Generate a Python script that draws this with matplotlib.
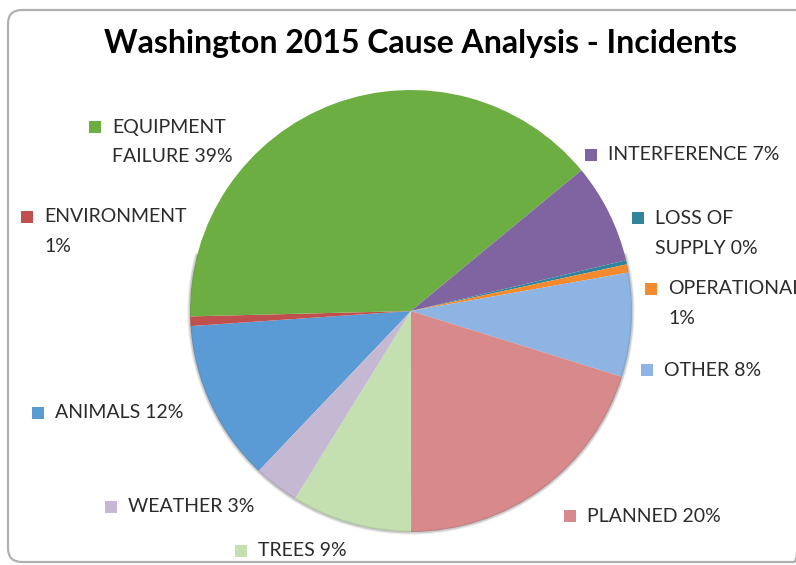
import matplotlib
matplotlib.use("Agg")
import matplotlib.pyplot as plt
from matplotlib.patches import Rectangle, FancyBboxPatch, Arc

plt.rcParams['font.family'] = ['Lato', 'DejaVu Sans']

# Cause shares (percent of incidents)
categories = ["ANIMALS", "ENVIRONMENT", "EQUIPMENT FAILURE", "INTERFERENCE",
              "LOSS OF SUPPLY", "OPERATIONAL", "OTHER", "PLANNED", "TREES", "WEATHER"]
shares = [11.8, 0.7, 39.4, 7.3, 0.3, 0.6, 7.6, 20.2, 8.8, 3.3]
colors = ["#5B9BD5", "#C0504D", "#6DAE43", "#8064A2", "#31849B",
          "#F38B2E", "#8DB4E2", "#D8898B", "#C4DFB0", "#C4B8D2"]

title = "Washington 2015 Cause Analysis - Incidents"

W, H = 796, 565
fig = plt.figure(figsize=(W / 100, H / 100), dpi=100)
ax = fig.add_axes([0, 0, 1, 1])

# pie (y axis is inverted, so clockwise on screen is counterclock=True here)
cx, cy, r = 411, 311, 221
ax.pie(shares, colors=colors, startangle=-226.4, counterclock=True,
       center=(cx, cy), radius=r, frame=True,
       wedgeprops=dict(linewidth=0, antialiased=True))
ax.set_xlim(0, W)
ax.set_ylim(H, 0)
ax.set_aspect('equal')
ax.axis('off')

# frame around the chart area
frame = FancyBboxPatch((8, 10), 800, 552, boxstyle="round,pad=0,rounding_size=14",
                       fill=False, edgecolor="#b0b0b0", linewidth=1.6, zorder=1)
ax.add_patch(frame)

# soft shadow along the lower rim of the pie
for lw, a in [(3.0, 0.12), (1.5, 0.25)]:
    ax.add_patch(Arc((cx, cy), 2 * r + 1, 2 * r + 1, theta1=-15, theta2=195,
                     edgecolor="#707070", linewidth=lw, alpha=a, zorder=3))

# label layout: (x of text, y of first line, word index where the line breaks)
layout = {
    "ANIMALS": (55, 413, None),
    "ENVIRONMENT": (44, 217, 1),
    "EQUIPMENT FAILURE": (112, 127, 1),
    "INTERFERENCE": (608, 155, None),
    "LOSS OF SUPPLY": (655, 218, 2),
    "OPERATIONAL": (668, 289, 1),
    "OTHER": (664, 370, None),
    "PLANNED": (587, 516, None),
    "TREES": (258, 551, None),
    "WEATHER": (128, 507, None),
}

line_gap = 30
for name, val, col in zip(categories, shares, colors):
    x, y, brk = layout[name]
    words = (name + f" {round(val)}%").split(" ")
    if brk is None:
        lines = [" ".join(words)]
    else:
        lines = [" ".join(words[:brk]), " ".join(words[brk:])]
    for i, ln in enumerate(lines):
        ax.text(x, y + i * line_gap, ln, fontsize=14, color="#2b2b2b",
                ha='left', va='center', zorder=5)
    ax.add_patch(Rectangle((x - 23, y - 6), 12, 12, facecolor=col,
                           edgecolor='none', zorder=5))

ax.text(420, 43, title, fontsize=23, fontweight='bold', color="#000000",
        ha='center', va='center', zorder=5)

fig.savefig("out.png", dpi=100)
